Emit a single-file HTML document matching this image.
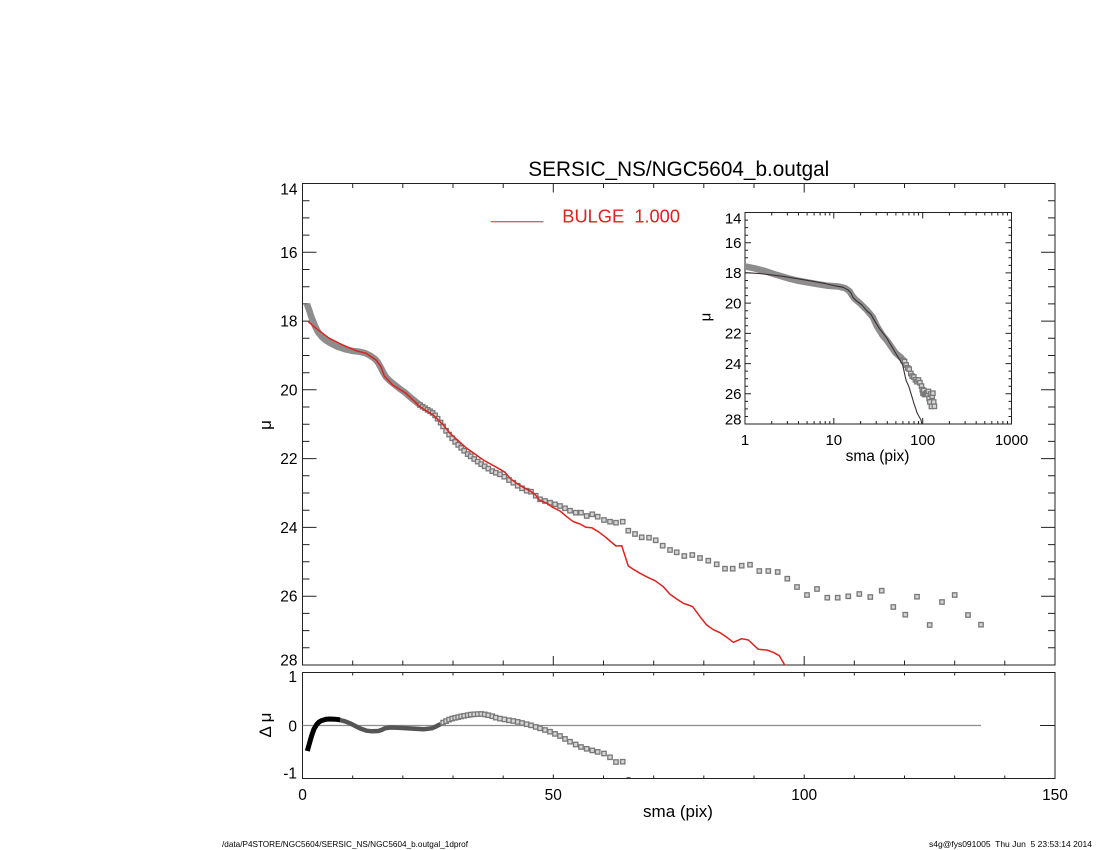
<!DOCTYPE html>
<html><head><meta charset="utf-8"><style>
html,body{margin:0;padding:0;background:#fff;}
svg{display:block;}
text{font-family:"Liberation Sans",Arial,sans-serif;fill:#000;}
</style></head><body>
<svg width="1100" height="850" viewBox="0 0 1100 850" xmlns="http://www.w3.org/2000/svg">
<defs>
<marker id="sq" markerUnits="userSpaceOnUse" markerWidth="8" markerHeight="8" refX="4" refY="4" overflow="visible">
<rect x="1.8" y="1.8" width="4.4" height="4.4" fill="#d6d6d6" stroke="#787878" stroke-width="1.3"/>
</marker>
<clipPath id="cm"><rect x="302.5" y="183.5" width="752.5" height="481.5"/></clipPath>
<clipPath id="cr"><rect x="302.5" y="672.5" width="752.5" height="106"/></clipPath>
<clipPath id="ci"><rect x="745" y="212.5" width="266.5" height="211.5"/></clipPath>
</defs>
<rect width="1100" height="850" fill="#fff"/>

<!-- Title -->
<text x="678.8" y="176" text-anchor="middle" font-size="21" textLength="301" lengthAdjust="spacingAndGlyphs">SERSIC_NS/NGC5604_b.outgal</text>

<!-- Main frame -->
<rect x="302.5" y="183.5" width="752.5" height="481.5" fill="none" stroke="#222" stroke-width="1"/>
<path fill="none" stroke="#222" stroke-width="1" d="M302.5 200.7h7M302.5 217.9h7M302.5 235.1h7M302.5 252.3h14M302.5 269.5h7M302.5 286.7h7M302.5 303.9h7M302.5 321.1h14M302.5 338.3h7M302.5 355.5h7M302.5 372.7h7M302.5 389.8h14M302.5 407h7M302.5 424.2h7M302.5 441.4h7M302.5 458.6h14M302.5 475.8h7M302.5 493h7M302.5 510.2h7M302.5 527.4h14M302.5 544.6h7M302.5 561.8h7M302.5 579h7M302.5 596.2h14M302.5 613.4h7M302.5 630.6h7M302.5 647.8h7
M1055 200.7h-7M1055 217.9h-7M1055 235.1h-7M1055 252.3h-14M1055 269.5h-7M1055 286.7h-7M1055 303.9h-7M1055 321.1h-14M1055 338.3h-7M1055 355.5h-7M1055 372.7h-7M1055 389.8h-14M1055 407h-7M1055 424.2h-7M1055 441.4h-7M1055 458.6h-14M1055 475.8h-7M1055 493h-7M1055 510.2h-7M1055 527.4h-14M1055 544.6h-7M1055 561.8h-7M1055 579h-7M1055 596.2h-14M1055 613.4h-7M1055 630.6h-7M1055 647.8h-7
M352.7 665v-4.5M402.8 665v-4.5M453 665v-4.5M503.2 665v-4.5M553.3 665v-9M603.5 665v-4.5M653.7 665v-4.5M703.8 665v-4.5M754 665v-4.5M804.2 665v-9M854.3 665v-4.5M904.5 665v-4.5M954.7 665v-4.5M1004.8 665v-4.5
M352.7 183.5v4.5M402.8 183.5v4.5M453 183.5v4.5M503.2 183.5v4.5M553.3 183.5v9M603.5 183.5v4.5M653.7 183.5v4.5M703.8 183.5v4.5M754 183.5v4.5M804.2 183.5v9M854.3 183.5v4.5M904.5 183.5v4.5M954.7 183.5v4.5M1004.8 183.5v4.5"/>

<!-- Main y labels -->
<g font-size="15.5" text-anchor="end">
<text x="297.5" y="194.5">14</text>
<text x="297.5" y="257.8">16</text>
<text x="297.5" y="326.6">18</text>
<text x="297.5" y="395.3">20</text>
<text x="297.5" y="464.1">22</text>
<text x="297.5" y="532.9">24</text>
<text x="297.5" y="601.7">26</text>
<text x="297.5" y="665.5">28</text>
</g>
<text transform="translate(271,425) rotate(-90)" text-anchor="middle" font-size="17">μ</text>

<!-- Legend -->
<path d="M490.7 221.7H543.3" stroke="#e3201c" stroke-width="1"/>
<text x="562.3" y="222.7" font-size="18" fill="#e3201c" style="fill:#e3201c;white-space:pre" textLength="117.7" lengthAdjust="spacingAndGlyphs">BULGE  1.000</text>

<!-- Main data -->
<g clip-path="url(#cm)">
<path fill="none" stroke="#8d8d8d" stroke-width="6.5" stroke-linejoin="round" d="M307 304L308 307L309.5 311L311 316L313 321L315 326L318 332L322 337L326 340.5L331 343.5L337 346.5L346 349.5L353 351L359 351.7L365 353L370 355.5L375 359L378 362.5L381 368L383 372L386 377L390 381L395 385L400 389L405 392.5L410 397L415 401L420 405.1"/>
<polyline fill="none" stroke="none" marker-start="url(#sq)" marker-mid="url(#sq)" marker-end="url(#sq)" points="420.1,405.1 422.6,406.7 425.1,408.2 427.6,409.8 430.1,411.3 432.6,412.9 435.1,415.4 437.6,418.7 440.6,422.6 443.1,426.4 446.1,430.8 449.1,434.6 452.2,438.3 455.2,441.9 458.2,444.9 461.2,447.8 464.2,450.8 467.7,454.1 470.7,456.3 474.2,459 477.7,461.6 481.2,464.1 484.7,466.3 488.3,468.6 492.3,471.1 495.8,472.7 500,474.3 504.3,476.7 509,480 513.3,482.7 517.7,485.7 522,488.3 526.7,490.7 531,491.7 535.7,495.7 540,499.3 545,501 550,502.7 555,504.3 560,506 565,508.3 570,510.7 575.7,512.7 581,512.7 586.7,516 592.3,514.3 597.7,516.7 604,520 610,521.7 616,522.7 622.7,521.7 628.3,530.7 635,534 641.7,537.3 649,537.7 655.7,540.3 662.7,545.7 670,550 676.7,552.3 684.3,556 692.3,555 700,558 708.3,560.7 716.7,564.3 725,568.7 732.7,568.7 741.7,565.7 750,564.7 759.3,571 768.3,571 777.7,572 787.3,578.7 797,587 807,595 817,589 827.3,597.7 837.7,597.7 848.3,596.3 859.3,594 870.3,597 881.7,590.7 893.3,607 905.3,614.7 917,596.7 929.7,625 942,602 954.7,595 968,615 981,624.7"/>
<path fill="none" stroke="#e3201c" stroke-width="1.5" stroke-linejoin="round" d="M308.3 321.7L316 328.3L329.3 338.3L342.7 345L356 350.7L366 353.3L376 360L381 366.7L384.3 376L392.7 385L406 393.3L420 406.7L433.3 415L443.3 425L450 433.3L466.7 448.3L483.3 460L500 469.3L505 472.3L510 478.3L516.7 483.3L523.3 487.3L530 491L535 494.3L539.3 500L546.7 503.3L553.3 507.7L560 511L566.7 516.7L573.3 521.7L580 524L586 527.3L591.7 527.7L598.3 531.7L605 536.7L610 541L616 546L621.7 545.7L628.3 566L633.3 569.3L640 573.3L647.7 577.3L655 580.7L663.3 586.7L670 594.3L676.7 599L683.3 603.3L688.3 605L692.7 606.7L700 616.7L706.7 625L713.3 629.7L720 632.7L726 636.7L733.3 642.3L741.7 638.7L748.3 640L758.3 649.3L766.7 650L773.3 652.3L779.3 655.7L785.7 666.7L787 670"/>
</g>

<!-- Inset -->
<rect x="745" y="212.5" width="266.5" height="211.5" fill="none" stroke="#222" stroke-width="1"/>
<path fill="none" stroke="#222" stroke-width="1" d="M833.8 424v-6M922.7 424v-6M771.7 424v-3M787.4 424v-3M798.5 424v-3M807.1 424v-3M814.1 424v-3M820.1 424v-3M825.2 424v-3M829.8 424v-3M860.6 424v-3M876.2 424v-3M887.3 424v-3M895.9 424v-3M902.9 424v-3M908.9 424v-3M914 424v-3M918.6 424v-3M949.4 424v-3M965.1 424v-3M976.2 424v-3M984.8 424v-3M991.8 424v-3M997.8 424v-3M1002.9 424v-3M1007.5 424v-3
M833.8 212.5v6M922.7 212.5v6M771.7 212.5v3M787.4 212.5v3M798.5 212.5v3M807.1 212.5v3M814.1 212.5v3M820.1 212.5v3M825.2 212.5v3M829.8 212.5v3M860.6 212.5v3M876.2 212.5v3M887.3 212.5v3M895.9 212.5v3M902.9 212.5v3M908.9 212.5v3M914 212.5v3M918.6 212.5v3M949.4 212.5v3M965.1 212.5v3M976.2 212.5v3M984.8 212.5v3M991.8 212.5v3M997.8 212.5v3M1002.9 212.5v3M1007.5 212.5v3
M745 220.1h3M745 227.6h3M745 235.2h3M745 242.7h6M745 250.3h3M745 257.8h3M745 265.4h3M745 272.9h6M745 280.5h3M745 288h3M745 295.6h3M745 303.1h6M745 310.7h3M745 318.3h3M745 325.8h3M745 333.4h6M745 340.9h3M745 348.5h3M745 356h3M745 363.6h6M745 371.1h3M745 378.7h3M745 386.2h3M745 393.8h6M745 401.4h3M745 408.9h3M745 416.5h3
M1011.5 220.1h-3M1011.5 227.6h-3M1011.5 235.2h-3M1011.5 242.7h-6M1011.5 250.3h-3M1011.5 257.8h-3M1011.5 265.4h-3M1011.5 272.9h-6M1011.5 280.5h-3M1011.5 288h-3M1011.5 295.6h-3M1011.5 303.1h-6M1011.5 310.7h-3M1011.5 318.3h-3M1011.5 325.8h-3M1011.5 333.4h-6M1011.5 340.9h-3M1011.5 348.5h-3M1011.5 356h-3M1011.5 363.6h-6M1011.5 371.1h-3M1011.5 378.7h-3M1011.5 386.2h-3M1011.5 393.8h-6M1011.5 401.4h-3M1011.5 408.9h-3M1011.5 416.5h-3"/>
<g font-size="15" text-anchor="end">
<text x="741.5" y="223.7">14</text>
<text x="741.5" y="248">16</text>
<text x="741.5" y="278.2">18</text>
<text x="741.5" y="308.4">20</text>
<text x="741.5" y="338.7">22</text>
<text x="741.5" y="368.9">24</text>
<text x="741.5" y="399.1">26</text>
<text x="741.5" y="424.5">28</text>
</g>
<g font-size="15" text-anchor="middle">
<text x="745" y="445">1</text>
<text x="833.8" y="445">10</text>
<text x="922.7" y="445">100</text>
<text x="1011.5" y="445">1000</text>
</g>
<text x="877.5" y="461" text-anchor="middle" font-size="15.5">sma (pix)</text>
<text transform="translate(710.5,317) rotate(-90)" text-anchor="middle" font-size="15">μ</text>
<g clip-path="url(#ci)">
<path fill="none" stroke="#8d8d8d" stroke-width="6.5" stroke-linejoin="round" d="M742 266L745 266.5L753.9 268.2L764.4 270.9L776.3 274.8L788.1 278.3L797 280.5L809 282.7L819.2 284.4L828.2 285.8L838.4 286.5L845.3 288.2L849.6 291.3L852 295.4L855.3 299.4L859.5 302.9L866.7 309.9L872.8 317.2L876.8 326L882.7 335.5L886.8 340.3L895.5 352.8L902.6 359"/>
<polyline fill="none" stroke="none" marker-start="url(#sq)" marker-mid="url(#sq)" marker-end="url(#sq)" points="903.1,360.3 904.6,361.5 906.1,365 907.7,367.9 909.2,369.2 910.8,373.5 912.2,376.1 913.8,377 915.4,379.8 916.9,381.7 918.4,380 919.9,382.7 921.5,386.1 922.3,389.6 923,393.2 923.8,390.5 924.5,394.4 925.3,394.4 926.1,393.8 926.9,392.8 927.6,394.1 928.4,391.4 929.1,398.5 929.9,401.9 930.6,394 931.4,406.4 932.2,396.3 932.9,393.2 933.7,402 934.4,406.3"/>
<path fill="none" stroke="#3b2f2f" stroke-width="1.1" stroke-linejoin="round" d="M745 272.7L760 273.6L782.8 276.3L809.4 280.7L825.3 283.6L836.1 286.1L842.8 287.2L848.5 290.2L851.1 293.1L852.8 297.2L856.6 301.1L861.8 304.8L866.7 310.7L870.9 314.3L875.5 322.3L879.7 328.9L886.8 338.1L895.5 352.9L902.6 364.7L906.1 380.5L908.9 386.7L913.8 402.9L917.3 413.4L921 420L922.5 426"/>
</g>

<!-- Residual panel -->
<rect x="302.5" y="672.5" width="752.5" height="106" fill="none" stroke="#222" stroke-width="1"/>
<path fill="none" stroke="#222" stroke-width="1" d="M352.7 672.5v3M402.8 672.5v3M453 672.5v3M503.2 672.5v3M553.3 672.5v4M603.5 672.5v3M653.7 672.5v3M703.8 672.5v3M754 672.5v3M804.2 672.5v4M854.3 672.5v3M904.5 672.5v3M954.7 672.5v3M1004.8 672.5v3
M352.7 778.5v-3M402.8 778.5v-3M453 778.5v-3M503.2 778.5v-3M553.3 778.5v-4M603.5 778.5v-3M653.7 778.5v-3M703.8 778.5v-3M754 778.5v-3M804.2 778.5v-4M854.3 778.5v-3M904.5 778.5v-3M954.7 778.5v-3M1004.8 778.5v-3
M302.5 725.5h15M1055 725.5h-15"/>
<path d="M302.5 725.5H981" stroke="#8c8c8c" stroke-width="1.2" fill="none"/>
<g clip-path="url(#cr)">
<path fill="none" stroke="#555" stroke-width="4.5" stroke-linejoin="round" d="M338 719.6L345 721.3L350 723.3L356.7 726.7L361 728.8L366.7 730.7L372 731.3L378.3 731L382 729.8L385 728.3L390 727.5L398 727.8L406.7 728.3L415 728.8L423.3 729.3L431.7 728.3L436 726.5L440.6 724"/>
<path fill="none" stroke="#000" stroke-width="5" stroke-linejoin="round" d="M307.3 751L309 745L311.7 735.5L314 729L316.7 724.5L319 722L321.7 720.5L326 719.3L330 719L335 719.2L340 719.8"/>
<polyline fill="none" stroke="none" marker-start="url(#sq)" marker-mid="url(#sq)" marker-end="url(#sq)" points="443.1,722.6 446.1,721.1 449.1,719.6 452.2,718.6 455.2,717.8 458.2,717.1 461.2,716.4 464.2,715.8 467.7,715.2 470.7,714.6 474.2,714.3 477.7,714.1 481.2,714 484.7,714.4 488.3,715.2 492.3,716.2 495.8,717.6 500,718.6 504.3,719.4 509,720.3 513.3,721 517.7,721.9 522,723 526.7,724.2 531,725.3 535.7,726.9 540,728.3 545,730 550,731.7 555,733.9 560,736 565,738.9 570,741.7 575.7,744.5 581,747 586.7,748.8 592.3,750.4 597.7,751.9 604,753.5 610,757.3 616,762 622.7,761.7"/>
<path d="M626.5 778H630.5" stroke="#333" stroke-width="1.5"/>
</g>
<g font-size="15.5" text-anchor="end">
<text x="297" y="682">1</text>
<text x="297" y="731.5">0</text>
<text x="297" y="778.5">-1</text>
</g>
<text transform="translate(271,725) rotate(-90)" text-anchor="middle" font-size="17" style="white-space:pre">Δ μ</text>

<!-- X labels -->
<g font-size="15.5" text-anchor="middle">
<text x="302.5" y="800">0</text>
<text x="553.3" y="800">50</text>
<text x="804.2" y="800">100</text>
<text x="1055" y="800">150</text>
</g>
<text x="678" y="817" text-anchor="middle" font-size="17">sma (pix)</text>

<!-- Footer -->
<text x="222" y="847" font-size="8.5" textLength="246" lengthAdjust="spacingAndGlyphs">/data/P4STORE/NGC5604/SERSIC_NS/NGC5604_b.outgal_1dprof</text>
<text x="929" y="847" font-size="8.5" textLength="163" lengthAdjust="spacingAndGlyphs" style="white-space:pre">s4g@fys091005  Thu Jun  5 23:53:14 2014</text>
</svg>
</body></html>
